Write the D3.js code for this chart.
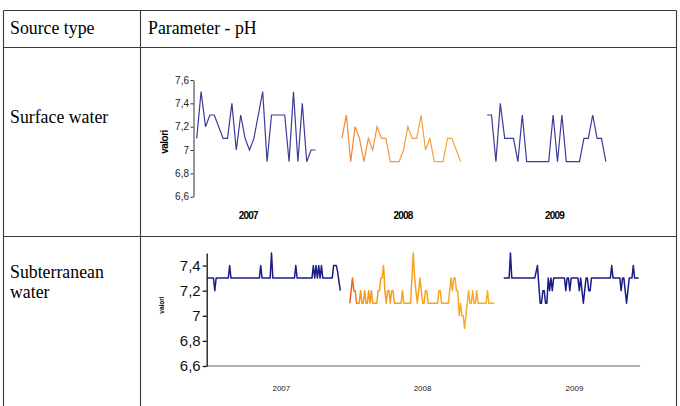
<!DOCTYPE html>
<html><head><meta charset="utf-8">
<script src="https://cdn.jsdelivr.net/npm/d3@7"></script>
<style>body{margin:0;background:#fff}svg{display:block}</style>
</head><body>
<svg id="c" width="680" height="406"></svg>
<script>
// ---------- data ----------
const years = ["2007", "2008", "2009"];
const headerLabels = ["Source type", "Parameter - pH"];
const rowLabels = [["Surface water"], ["Subterranean", "water"]];
const axisTitle = "valori";

// Surface water (one point per sample)
const surface2007 = [7.1,7.5,7.2,7.3,7.3,7.2,7.1,7.1,7.4,7.0,7.3,7.1,7.0,7.1,7.3,7.5,6.9,7.3,7.3,7.3,7.3,6.9,7.5,6.9,7.4,6.9,7.0,7.0];
const surface2008 = [7.1,7.3,6.9,7.2,7.1,6.9,7.1,7.0,7.2,7.1,7.1,6.9,6.9,6.9,7.0,7.2,7.1,7.1,7.3,7.0,7.1,6.9,6.9,6.9,7.1,7.1,7.0,6.9];
const surface2009 = [7.3,7.3,6.9,7.4,7.1,7.1,7.1,6.9,7.3,6.9,6.9,6.9,6.9,6.9,6.9,7.3,6.9,7.3,6.9,6.9,6.9,6.9,7.1,7.1,7.3,7.1,7.1,6.9];
const surfaceTicks = [6.6, 6.8, 7, 7.2, 7.4, 7.6];
const surfaceYearAt = [11.7, 46.9, 81.3];   // category index of each year label

// Subterranean water
const subter2007 = [
 7.3,7.3,7.3,7.3,7.3,7.3,7.2,7.3,7.3,7.3, 7.3,7.3,7.3,7.3,7.3,7.3,7.3,7.4,7.3,7.3,
 7.3,7.3,7.3,7.3,7.3,7.3,7.3,7.3,7.3,7.3, 7.3,7.3,7.3,7.3,7.3,7.3,7.3,7.3,7.3,7.3,
 7.4,7.3,7.3,7.3,7.3,7.3,7.3,7.3,7.5,7.3, 7.3,7.3,7.3,7.3,7.3,7.3,7.3,7.3,7.3,7.3,
 7.3,7.3,7.3,7.3,7.3,7.3,7.4,7.3,7.3,7.3, 7.3,7.3,7.3,7.3,7.3,7.3,7.3,7.3,7.3,7.4,
 7.3,7.4,7.3,7.4,7.3,7.4,7.3,7.3,7.3,7.3, 7.3,7.3,7.3,7.3,7.4,7.4,7.4,7.35,7.27,7.2];
const subter2008 = [
 7.1,7.2,7.3,7.2,7.2,7.1,7.1,7.1,7.2,7.1, 7.1,7.2,7.1,7.1,7.2,7.1,7.2,7.1,7.1,7.1,
 7.1,7.2,7.2,7.3,7.3,7.4,7.2,7.1,7.2,7.2, 7.1,7.2,7.2,7.1,7.1,7.1,7.1,7.1,7.1,7.2,
 7.1,7.1,7.1,7.1,7.1,7.1,7.3,7.5,7.3,7.2, 7.1,7.2,7.3,7.2,7.1,7.1,7.2,7.2,7.1,7.1,
 7.1,7.1,7.1,7.1,7.1,7.1,7.2,7.2,7.1,7.1, 7.1,7.1,7.1,7.1,7.2,7.3,7.2,7.3,7.3,7.2,
 7.2,7.0,7.1,7.0,7.0,6.9,7.0,7.1,7.2,7.1, 7.1,7.2,7.1,7.1,7.2,7.1,7.1,7.1,7.1,7.1,
 7.1,7.1,7.2,7.1,7.1,7.1,7.1,7.1];
const subter2009 = [
 7.3,7.3,7.3,7.3,7.3,7.5,7.3,7.3,7.3,7.3, 7.3,7.3,7.3,7.3,7.3,7.3,7.3,7.3,7.3,7.3,
 7.3,7.3,7.3,7.3,7.35,7.4,7.25,7.1,7.1,7.2, 7.2,7.1,7.1,7.3,7.2,7.3,7.2,7.3,7.3,7.3,
 7.3,7.3,7.3,7.3,7.3,7.3,7.2,7.3,7.3,7.2, 7.3,7.3,7.3,7.3,7.3,7.3,7.2,7.3,7.2,7.1,
 7.2,7.3,7.3,7.2,7.2,7.3,7.3,7.3,7.3,7.3, 7.3,7.3,7.3,7.3,7.3,7.3,7.3,7.3,7.3,7.3,
 7.4,7.3,7.3,7.3,7.3,7.3,7.3,7.2,7.3,7.3, 7.2,7.1,7.2,7.3,7.3,7.3,7.4,7.3,7.3,7.3,
 7.3];
const subterTicks = [6.6, 6.8, 7, 7.2, 7.4];
const subterYearAt = [55.3, 159.9, 272.4];

// ---------- drawing ----------
const svg = d3.select("#c");
svg.append("rect").attr("width", 680).attr("height", 406).attr("fill", "#fff");
const defs = svg.append("defs");
const fmt = d => String(Math.round(d * 10) / 10).replace(".", ",");
const serif = "'Liberation Serif','Times New Roman',serif";
const sans = "'Liberation Sans',Arial,sans-serif";

// table grid
const grid = svg.append("g").attr("stroke", "#3a3a3a").attr("stroke-width", 1.1);
[[3.5, 10.5, 676.5, 10.5], [3.5, 47.5, 676.5, 47.5], [3.5, 236.5, 676.5, 236.5],
 [3.5, 10.5, 3.5, 406], [140.5, 10.5, 140.5, 406], [676.5, 10.5, 676.5, 406]]
 .forEach(([x1, y1, x2, y2]) => grid.append("line").attr("x1", x1).attr("y1", y1).attr("x2", x2).attr("y2", y2));

const txt = svg.append("g").attr("font-family", serif).attr("font-size", 17.8).attr("fill", "#000");
txt.append("text").attr("x", 10).attr("y", 33.5).text(headerLabels[0]);
txt.append("text").attr("x", 148).attr("y", 33.5).text(headerLabels[1]);
txt.append("text").attr("x", 10).attr("y", 122.5).text(rowLabels[0][0]);
rowLabels[1].forEach((t, i) => txt.append("text").attr("x", 10).attr("y", 277.5 + i * 20).text(t));

function gradient(id, x1, x2, stops) {
  const g = defs.append("linearGradient").attr("id", id).attr("gradientUnits", "userSpaceOnUse")
    .attr("x1", x1).attr("x2", x2).attr("y1", 0).attr("y2", 0);
  stops.forEach(([o, c]) => g.append("stop").attr("offset", o).attr("stop-color", c));
  return `url(#${id})`;
}

// ----- top chart: surface water -----
{
  const series = [surface2007, surface2008, surface2009];
  const gap = 5;
  const offs = []; let o = 0;
  series.forEach(s => { offs.push(o); o += s.length + gap; });
  const n = o - gap;
  const x = d3.scaleLinear().domain([0, n - 1]).range([196.7, 605.9]);
  const y = d3.scaleLinear().domain([6.6, 7.6]).range([196.7, 80]);
  const g = svg.append("g");
  const ax = g.append("g").attr("transform", "translate(193.5,0)")
    .call(d3.axisLeft(y).tickValues(surfaceTicks).tickSize(3).tickSizeOuter(0).tickFormat(fmt));
  ax.selectAll("path,line").attr("stroke", "#333");
  ax.selectAll("text").attr("font-family", sans).attr("font-size", 10).attr("fill", "#222").attr("x", -4.5);
  g.append("text").attr("transform", "translate(168,142) rotate(-90)").attr("text-anchor", "middle")
    .attr("font-family", sans).attr("font-size", 10).attr("font-weight", "bold").attr("letter-spacing", -0.5).text(axisTitle);
  const colors = ["#3b3b98",
    gradient("gTop", x(offs[1]), x(offs[1] + series[1].length - 1), [[0, "#f0853a"], [1, "#f5ae3c"]]),
    "#3b3b98"];
  series.forEach((s, k) => {
    const line = d3.line().x((d, i) => x(offs[k] + i)).y(d => y(d));
    g.append("path").attr("d", line(s)).attr("fill", "none").attr("stroke", colors[k])
      .attr("stroke-width", 1.2).attr("stroke-linejoin", "miter");
  });
  years.forEach((yr, i) => g.append("text").attr("x", x(surfaceYearAt[i])).attr("y", 219)
    .attr("text-anchor", "middle").attr("font-family", sans).attr("font-size", 10)
    .attr("font-weight", "bold").attr("letter-spacing", -0.8).text(yr));
}

// ----- bottom chart: subterranean water -----
{
  const series = [subter2007, subter2008, subter2009];
  const gap = 6;
  const offs = []; let o = 0;
  series.forEach(s => { offs.push(o); o += s.length + gap; });
  const n = o - gap;
  const x = d3.scaleLinear().domain([0, n - 1]).range([206.7, 638.7]);
  const y = d3.scaleLinear().domain([6.6, 7.5]).range([366, 253]);
  const g = svg.append("g");
  g.append("line").attr("x1", 206.7).attr("x2", x(n - 1) + 1.5).attr("y1", y(6.6)).attr("y2", y(6.6))
    .attr("stroke", "#999").attr("stroke-width", 1.5);
  const ax = g.append("g").attr("transform", "translate(206.7,0)")
    .call(d3.axisLeft(y).tickValues(subterTicks).tickSize(4).tickSizeOuter(0).tickFormat(fmt));
  ax.selectAll("path,line").attr("stroke", "#111").attr("stroke-width", 1.3);
  ax.selectAll("text").attr("font-family", sans).attr("font-size", 15).attr("fill", "#111").attr("x", -6);
  g.append("text").attr("transform", "translate(164,305) rotate(-90)").attr("text-anchor", "middle")
    .attr("font-family", sans).attr("font-size", 6.5).attr("font-weight", "bold").text(axisTitle);
  const colors = ["#1c1c88",
    gradient("gBot", x(offs[1]), x(offs[1] + series[1].length - 1),
      [[0, "#e8561c"], [0.07, "#f39a1e"], [0.5, "#f6a41e"], [1, "#f7b02c"]]),
    "#1c1c88"];
  series.forEach((s, k) => {
    const line = d3.line().x((d, i) => x(offs[k] + i)).y(d => y(d));
    g.append("path").attr("d", line(s)).attr("fill", "none").attr("stroke", colors[k])
      .attr("stroke-width", 1.5).attr("stroke-linejoin", "round");
  });
  years.forEach((yr, i) => g.append("text").attr("x", x(subterYearAt[i])).attr("y", 390.5)
    .attr("text-anchor", "middle").attr("font-family", sans).attr("font-size", 8)
    .attr("fill", "#222").text(yr));
}
</script>
</body></html>
